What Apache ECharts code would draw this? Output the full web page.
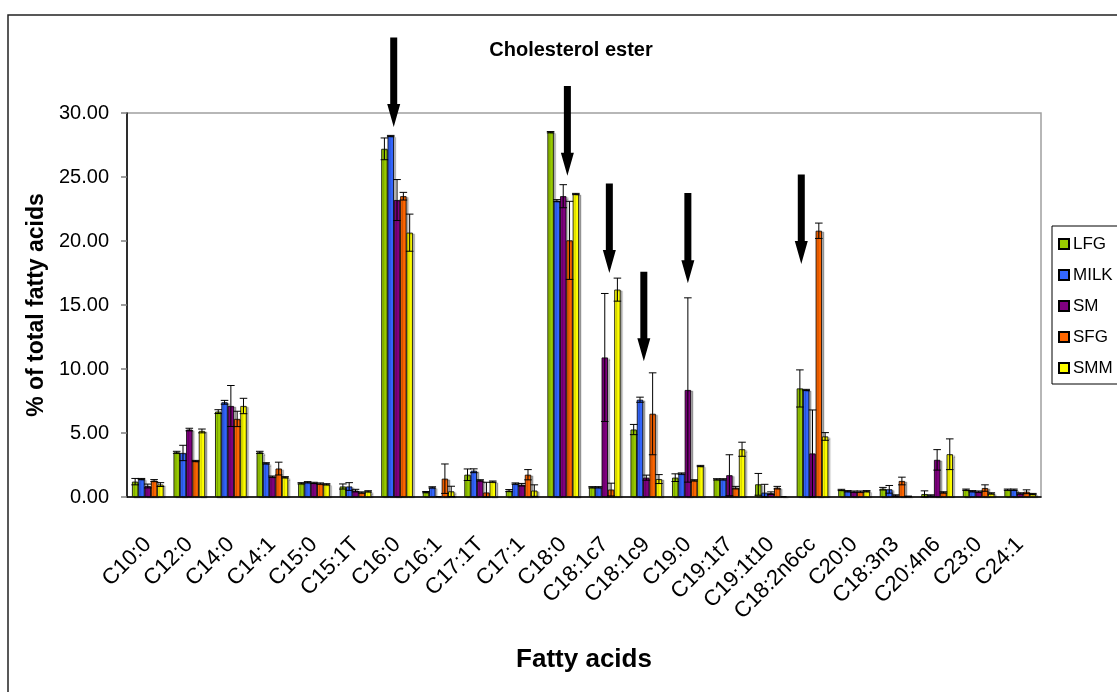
<!DOCTYPE html>
<html>
<head>
<meta charset="utf-8">
<script src="https://cdn.jsdelivr.net/npm/echarts@6/dist/echarts.min.js"></script>
<style>
  html, body { margin: 0; padding: 0; background: #fff; }
  #chart { width: 1117px; height: 692px; }
</style>
</head>
<body>
<div id="chart"></div>
<script>
// fatty acid categories (x axis)
const categories = ['C10:0', 'C12:0', 'C14:0', 'C14:1', 'C15:0', 'C15:1T', 'C16:0', 'C16:1', 'C17:1T', 'C17:1',
  'C18:0', 'C18:1c7', 'C18:1c9', 'C19:0', 'C19:1t7', 'C19:1t10', 'C18:2n6cc', 'C20:0', 'C18:3n3', 'C20:4n6', 'C23:0', 'C24:1'];

const seriesNames = ['LFG', 'MILK', 'SM', 'SFG', 'SMM'];
const seriesColors = ['#99cc00', '#3366ff', '#800080', '#ff6600', '#ffff00'];

// means (% of total fatty acids)
const LFG = [1.20, 3.49, 6.67, 3.49, 1.07, 0.82, 27.2, 0.38, 1.74, 0.50, 28.5, 0.76, 5.27, 1.51, 1.38, 0.99, 8.48, 0.55, 0.65, 0.23, 0.57, 0.57];
const MILK = [1.40, 3.44, 7.40, 2.63, 1.15, 0.82, 28.2, 0.75, 2.05, 1.05, 23.15, 0.76, 7.60, 1.83, 1.38, 0.34, 8.36, 0.45, 0.60, 0.12, 0.45, 0.57];
const SM = [0.86, 5.27, 7.11, 1.59, 1.10, 0.50, 23.2, 0.05, 1.30, 0.96, 23.5, 10.9, 1.51, 8.36, 1.70, 0.30, 3.40, 0.42, 0.12, 2.90, 0.42, 0.28];
const SFG = [1.28, 2.81, 6.10, 2.22, 1.05, 0.35, 23.5, 1.43, 0.35, 1.74, 20.05, 0.58, 6.50, 1.30, 0.73, 0.73, 20.8, 0.42, 1.25, 0.36, 0.70, 0.41];
const SMM = [0.97, 5.16, 7.11, 1.54, 0.99, 0.44, 20.65, 0.44, 1.20, 0.50, 23.67, 16.2, 1.40, 2.42, 3.73, 0.05, 4.73, 0.45, 0.05, 3.34, 0.28, 0.23];

// error bars (+/-)
const LFG_err = [0.25, 0.08, 0.15, 0.08, 0.05, 0.20, 0.85, 0.05, 0.45, 0.08, 0.05, 0.05, 0.40, 0.30, 0.05, 0.85, 1.45, 0.05, 0.10, 0.25, 0.05, 0.05];
const MILK_err = [0.05, 0.60, 0.15, 0.05, 0.05, 0.30, 0.05, 0.05, 0.15, 0.05, 0.08, 0.05, 0.20, 0.05, 0.05, 0.65, 0.05, 0.05, 0.30, 0.05, 0.05, 0.05];
const SM_err = [0.15, 0.10, 1.60, 0.05, 0.05, 0.10, 1.60, 0, 0.05, 0.10, 0.90, 5.0, 0.20, 7.2, 1.60, 0.10, 3.40, 0.05, 0.05, 0.80, 0.05, 0.05];
const SFG_err = [0.08, 0.05, 0.60, 0.50, 0.05, 0.05, 0.30, 1.15, 0.80, 0.40, 3.05, 0.50, 3.20, 0.05, 0.10, 0.10, 0.60, 0.05, 0.30, 0.05, 0.25, 0.15];
const SMM_err = [0.15, 0.15, 0.60, 0.05, 0.05, 0.05, 1.45, 0.40, 0.05, 0.45, 0.05, 0.90, 0.35, 0.05, 0.55, 0, 0.30, 0.05, 0.02, 1.20, 0.05, 0.05];

const yTicks = { min: 0, max: 30, interval: 5 };

// annotation arrows: [category, top value, tip value, offset in category widths]
const arrows = [
  ['C16:0', 35.9, 28.9, -0.08],
  ['C18:0', 32.1, 25.1, 0.10],
  ['C18:1c7', 24.5, 17.5, 0.11],
  ['C18:1c9', 17.6, 10.6, -0.06],
  ['C19:0', 23.75, 16.7, 0],
  ['C18:2n6cc', 25.2, 18.2, -0.27]
];

const means = [LFG, MILK, SM, SFG, SMM];
const errs = [LFG_err, MILK_err, SM_err, SFG_err, SMM_err];

const sans = "'Liberation Sans', Arial, sans-serif";
const groupFrac = 0.76; // 1 - barCategoryGap

const chart = echarts.init(document.getElementById('chart'));

const series = [];
means.forEach((vals, s) => {
  series.push({
    name: seriesNames[s],
    type: 'bar',
    data: vals,
    barGap: '0%',
    barCategoryGap: '24%',
    itemStyle: {
      color: seriesColors[s],
      borderColor: '#000',
      borderWidth: 0.8,
      shadowColor: 'rgba(0,0,0,0.3)',
      shadowOffsetX: 2,
      shadowOffsetY: 1,
      shadowBlur: 1
    },
    z: 2
  });
});

// error bars drawn over the bars
means.forEach((vals, s) => {
  series.push({
    name: seriesNames[s] + '_err',
    type: 'custom',
    z: 5,
    silent: true,
    data: vals.map((v, i) => [i, v, errs[s][i]]),
    encode: { x: 0, y: 1 },
    renderItem: function (params, api) {
      const ci = api.value(0), v = api.value(1), e = api.value(2);
      if (!e) return;
      const band = api.size([1, 0])[0];
      const bw = band * groupFrac / 5;
      const c = api.coord([ci, v]);
      const x = c[0] - band * groupFrac / 2 + bw * (s + 0.5);
      const yt = api.coord([ci, v + e])[1];
      const yb = api.coord([ci, Math.max(v - e, 0)])[1];
      const hw = bw * 0.6;
      const st = { stroke: '#000', lineWidth: 1 };
      return {
        type: 'group',
        children: [
          { type: 'line', shape: { x1: x, y1: yt, x2: x, y2: yb }, style: st },
          { type: 'line', shape: { x1: x - hw, y1: yt, x2: x + hw, y2: yt }, style: st },
          { type: 'line', shape: { x1: x - hw, y1: yb, x2: x + hw, y2: yb }, style: st }
        ]
      };
    }
  });
});

// arrows
series.push({
  name: 'arrows',
  type: 'custom',
  z: 6,
  silent: true,
  clip: false,
  data: arrows.map(a => [categories.indexOf(a[0]), a[1], a[2], a[3]]),
  encode: { x: 0, y: 1 },
  renderItem: function (params, api) {
    const ci = api.value(0);
    const band = api.size([1, 0])[0];
    const top = api.coord([ci, api.value(1)]);
    const tip = api.coord([ci, api.value(2)]);
    const x = top[0] + api.value(3) * band;
    const sw = 3.5, hw = 6.5, hl = 23;
    const yh = tip[1] - hl;
    return {
      type: 'polygon',
      shape: {
        points: [
          [x - sw, top[1]], [x + sw, top[1]], [x + sw, yh], [x + hw, yh],
          [x, tip[1]], [x - hw, yh], [x - sw, yh]
        ]
      },
      style: { fill: '#000' }
    };
  }
});

chart.setOption({
  backgroundColor: '#fff',
  animation: false,
  title: {
    text: 'Cholesterol ester',
    left: 566,
    textAlign: 'center',
    top: 35,
    textStyle: { fontFamily: sans, fontWeight: 'bold', fontSize: 20, color: '#000' }
  },
  legend: {
    data: seriesNames,
    orient: 'vertical',
    left: 1052,
    top: 226,
    itemWidth: 10,
    itemHeight: 10,
    itemGap: 11,
    padding: [8, 10, 6, 6],
    borderColor: '#000',
    borderWidth: 1,
    icon: 'rect',
    textStyle: { fontFamily: sans, fontSize: 17, lineHeight: 20, color: '#000', padding: [0, 0, 0, -1] }
  },
  grid: {
    left: 127,
    right: 76,
    top: 113,
    bottom: 195,
    show: true,
    borderColor: '#a0a0a0',
    borderWidth: 1.5
  },
  xAxis: {
    type: 'category',
    data: categories,
    name: 'Fatty acids',
    nameLocation: 'middle',
    nameGap: 150,
    nameTextStyle: { fontFamily: sans, fontWeight: 'bold', fontSize: 26, color: '#000' },
    axisLine: { lineStyle: { color: '#000', width: 1.5 } },
    axisTick: { length: 6, lineStyle: { color: '#000' } },
    axisLabel: {
      interval: 0,
      rotate: 45,
      margin: 44,
      fontFamily: sans,
      fontSize: 22,
      color: '#000'
    }
  },
  yAxis: {
    type: 'value',
    min: yTicks.min,
    max: yTicks.max,
    interval: yTicks.interval,
    name: '% of total fatty acids',
    nameLocation: 'middle',
    nameGap: 76,
    nameTextStyle: { fontFamily: sans, fontWeight: 'bold', fontSize: 23, color: '#000' },
    axisLine: { show: true, lineStyle: { color: '#000', width: 1.5 } },
    axisTick: { show: true, length: 6, lineStyle: { color: '#808080', width: 1.5 } },
    splitLine: { show: false },
    axisLabel: {
      formatter: v => v.toFixed(2),
      margin: 18,
      fontFamily: sans,
      fontSize: 20,
      color: '#000'
    }
  },
  graphic: [{
    type: 'rect',
    silent: true,
    shape: { x: 8, y: 15, width: 1300, height: 900 },
    style: { fill: 'none', stroke: '#222', lineWidth: 1.5 }
  }],
  series: series
});
</script>
</body>
</html>
